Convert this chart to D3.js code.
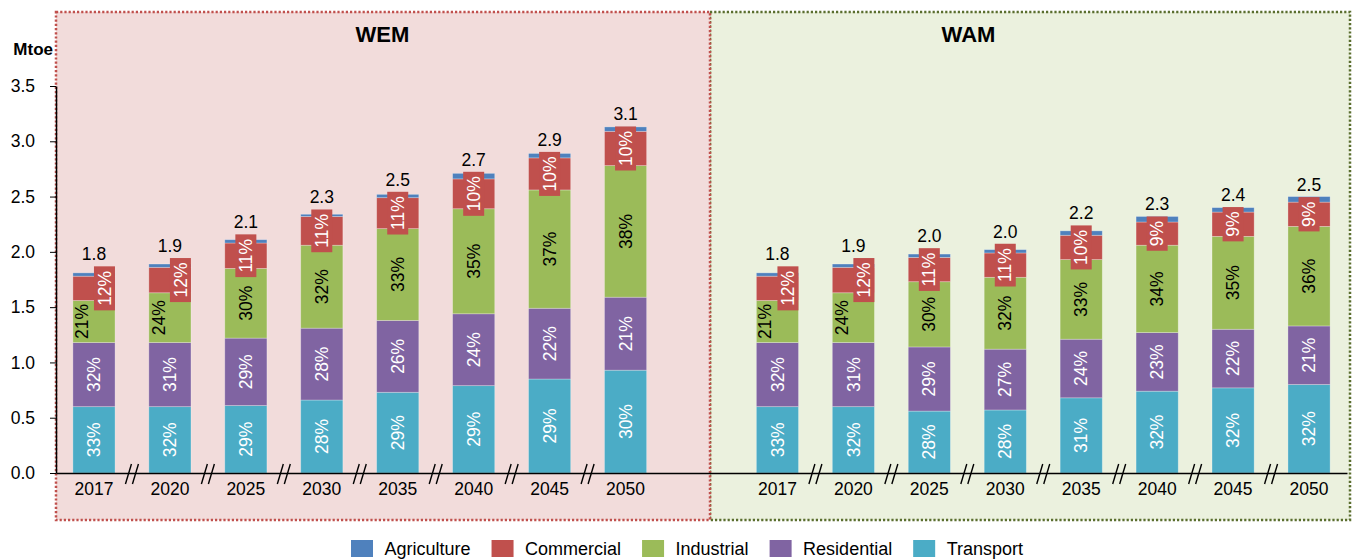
<!DOCTYPE html>
<html>
<head>
<meta charset="utf-8">
<script src="https://cdn.jsdelivr.net/npm/d3@7"></script>
<style>
  body { margin: 0; background: #fff; }
  text { font-family: "Liberation Sans", Arial, sans-serif; }
</style>
</head>
<body>
<svg width="1353" height="559"></svg>
<script>
// Data (Mtoe)
const scenarios = ["WEM", "WAM"];
const years = ["2017", "2020", "2025", "2030", "2035", "2040", "2045", "2050"];
const sectors = ["Agriculture", "Commercial", "Industrial", "Residential", "Transport"];
const yTicks = [0, 0.5, 1.0, 1.5, 2.0, 2.5, 3.0, 3.5];

const wemTransport   = [0.60, 0.60, 0.61, 0.66, 0.73, 0.79, 0.85, 0.93];
const wemResidential = [0.58, 0.58, 0.61, 0.65, 0.65, 0.65, 0.64, 0.66];
const wemIndustrial  = [0.38, 0.45, 0.63, 0.75, 0.83, 0.95, 1.07, 1.19];
const wemCommercial  = [0.22, 0.23, 0.23, 0.26, 0.28, 0.27, 0.29, 0.31];
const wemAgriculture = [0.03, 0.03, 0.03, 0.02, 0.03, 0.05, 0.04, 0.04];

const wamTransport   = [0.60, 0.60, 0.56, 0.57, 0.68, 0.74, 0.77, 0.80];
const wamResidential = [0.58, 0.58, 0.58, 0.55, 0.53, 0.53, 0.53, 0.53];
const wamIndustrial  = [0.38, 0.45, 0.59, 0.65, 0.72, 0.79, 0.84, 0.90];
const wamCommercial  = [0.22, 0.23, 0.22, 0.22, 0.22, 0.21, 0.22, 0.22];
const wamAgriculture = [0.03, 0.03, 0.03, 0.03, 0.04, 0.05, 0.04, 0.05];

// colours
const colors = {
    Agriculture: "#4f81bd",
    Commercial: "#c0504d",
    Industrial: "#9bbb59",
    Residential: "#8064a2",
    Transport: "#4bacc6"
};

// build rows for the stack
const source = {
    WEM: { Transport: wemTransport, Residential: wemResidential, Industrial: wemIndustrial, Commercial: wemCommercial, Agriculture: wemAgriculture },
    WAM: { Transport: wamTransport, Residential: wamResidential, Industrial: wamIndustrial, Commercial: wamCommercial, Agriculture: wamAgriculture }
};
let rows = [];
scenarios.forEach(function(s) {
    years.forEach(function(y, i) {
        let r = { key: s + " " + y, scenario: s, year: y, idx: i };
        sectors.forEach(function(k) { r[k] = source[s][k][i]; });
        r.total = d3.sum(sectors, k => r[k]);
        rows.push(r);
    });
});

const stackKeys = ["Transport", "Residential", "Industrial", "Commercial", "Agriculture"];
const series = d3.stack().keys(stackKeys)(rows);

const svg = d3.select("svg");

// scales
const slots = years.map(y => "WEM " + y).concat(["gap"], years.map(y => "WAM " + y));
const x = d3.scaleBand()
    .domain(slots)
    .range([56, 1347])
    .paddingInner(0.445)
    .paddingOuter(0.2225);
const y = d3.scaleLinear().domain([0, 3.5]).range([473, 86]);
const cx = k => x(k) + x.bandwidth() / 2;

// scenario panels
svg.append("rect")
    .attr("x", 710).attr("y", 12).attr("width", 640).attr("height", 508)
    .attr("fill", "#ebf1de")
    .attr("stroke", "#5a6e2e").attr("stroke-width", 2.5)
    .attr("stroke-dasharray", "2.2,2");
svg.append("rect")
    .attr("x", 56).attr("y", 12).attr("width", 654).attr("height", 508)
    .attr("fill", "#f2dcdb")
    .attr("stroke", "#c0504d").attr("stroke-width", 2.5)
    .attr("stroke-dasharray", "2.2,2");

svg.append("text").attr("x", 382.5).attr("y", 42)
    .attr("text-anchor", "middle").attr("font-size", 22).attr("font-weight", "bold")
    .text("WEM");
svg.append("text").attr("x", 968.5).attr("y", 42)
    .attr("text-anchor", "middle").attr("font-size", 22).attr("font-weight", "bold")
    .text("WAM");

// bars
svg.append("g")
    .selectAll("g")
    .data(series)
    .join("g")
    .attr("fill", d => colors[d.key])
    .selectAll("rect")
    .data(d => d)
    .join("rect")
    .attr("x", d => x(d.data.key))
    .attr("width", x.bandwidth())
    .attr("y", d => y(d[1]))
    .attr("height", d => y(d[0]) - y(d[1]))
    .attr("stroke", "rgba(255,255,255,0.35)")
    .attr("stroke-width", 0.8);

// label nudges for the small first bars
const shiftCom = [10.5, 10.5, 0, 0, 0, 0, 0, 0];
const shiftInd = [-12.5, -11.5, 0, 0, 0, 0, 0, 0];

const labels = svg.append("g").attr("font-size", 17.5);
let boxTop = {};

series.forEach(function(s) {
    if (s.key === "Agriculture") return;
    s.forEach(function(d) {
        const r = d.data;
        let px = cx(r.key);
        if (s.key === "Commercial") px += shiftCom[r.idx];
        if (s.key === "Industrial") px += shiftInd[r.idx];
        const py = (y(d[0]) + y(d[1])) / 2;
        const pct = Math.round(r[s.key] / r.total * 100) + "%";
        const g = labels.append("g").attr("transform", "translate(" + px + "," + py + ")");
        let box = null;
        if (s.key === "Commercial") box = g.append("rect").attr("fill", colors.Commercial);
        const t = g.append("text")
            .attr("transform", "rotate(-90)")
            .attr("text-anchor", "middle")
            .attr("dy", "0.35em")
            .attr("fill", s.key === "Industrial" ? "#000" : "#fff")
            .text(pct);
        if (box) {
            const len = t.node().getComputedTextLength() + 9;
            box.attr("x", -10.5).attr("width", 21).attr("y", -len / 2).attr("height", len);
            boxTop[r.key] = py - len / 2;
        }
    });
});

// totals above bars
svg.append("g")
    .selectAll("text")
    .data(rows)
    .join("text")
    .attr("x", d => cx(d.key))
    .attr("y", d => Math.min(y(d.total), boxTop[d.key]) - 6)
    .attr("text-anchor", "middle")
    .attr("font-size", 17.5)
    .text(d => d3.format(".1f")(d.total));

// axes
const yAxis = svg.append("g")
    .attr("transform", "translate(56,0)")
    .call(d3.axisLeft(y).tickValues(yTicks).tickFormat(d3.format(".1f")).tickSize(6).tickSizeOuter(0).tickPadding(15));
yAxis.select(".domain").attr("stroke-width", 1.5);
yAxis.selectAll("text").attr("font-size", 17.5).attr("fill", "#000").attr("font-family", "Liberation Sans, Arial, sans-serif");

const xAxis = svg.append("g")
    .attr("transform", "translate(0,473)")
    .call(d3.axisBottom(x).tickValues(slots.filter(k => k !== "gap")).tickFormat(k => k.split(" ")[1]).tickSize(0).tickSizeOuter(0).tickPadding(10));
xAxis.select(".domain").attr("stroke-width", 1.5);
xAxis.selectAll("text").attr("font-size", 17.5).attr("fill", "#000").attr("font-family", "Liberation Sans, Arial, sans-serif");

// axis break marks between years
let breaks = [];
scenarios.forEach(function(s) {
    for (let i = 1; i < years.length; i++) {
        breaks.push((cx(s + " " + years[i - 1]) + cx(s + " " + years[i])) / 2);
    }
});
const brk = svg.append("g").attr("stroke", "#000").attr("stroke-width", 1.4);
breaks.forEach(function(b) {
    [-3.5, 3.5].forEach(function(o) {
        brk.append("line")
            .attr("x1", b + o + 3).attr("y1", 464)
            .attr("x2", b + o - 3).attr("y2", 484);
    });
});

svg.append("text").attr("x", 53).attr("y", 55)
    .attr("text-anchor", "end").attr("font-size", 17).attr("font-weight", "bold")
    .text("Mtoe");

// legend
const legend = svg.append("g").attr("font-size", 18);
let lx = 351;
sectors.forEach(function(k) {
    legend.append("rect").attr("x", lx).attr("y", 540).attr("width", 22).attr("height", 17).attr("fill", colors[k]);
    const t = legend.append("text").attr("x", lx + 33.5).attr("y", 555).text(k);
    lx += 33.5 + t.node().getComputedTextLength() + 21;
});
</script>
</body>
</html>
